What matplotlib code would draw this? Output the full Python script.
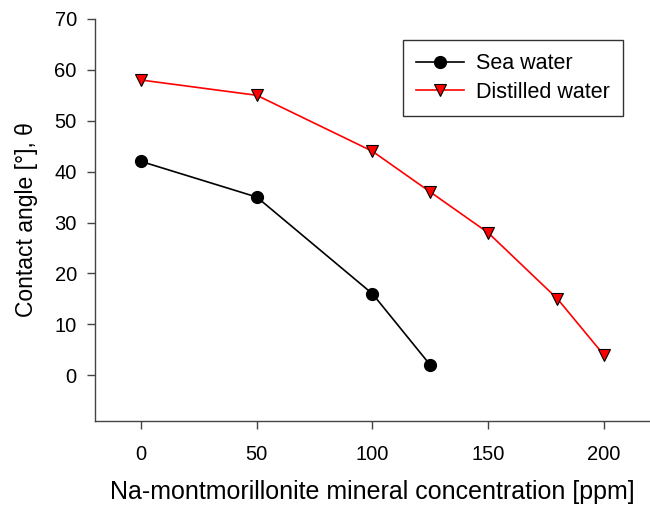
import matplotlib
matplotlib.use("Agg")
import matplotlib.pyplot as plt

plt.rcParams['font.family'] = ['Liberation Sans', 'DejaVu Sans']

sea_x = [0, 50, 100, 125]
sea_y = [42, 35, 16, 2]
dist_x = [0, 50, 100, 125, 150, 180, 200]
dist_y = [58, 55, 44, 36, 28, 15, 4]
xticks = [0, 50, 100, 150, 200]
yticks = [0, 10, 20, 30, 40, 50, 60, 70]

fig = plt.figure(figsize=(6.5, 5.07), dpi=100)
ax = fig.add_axes([0.146, 0.1696, 0.854, 0.793])

ax.plot(sea_x, sea_y, color='black', lw=1.2, marker='o', ms=8.5,
        mfc='black', mec='black', label='Sea water', clip_on=False)
ax.plot(dist_x, dist_y, color='red', lw=1.2, marker='v', ms=9,
        mfc='red', mec='black', mew=0.8, label='Distilled water', clip_on=False)

ax.set_xlim(-20, 220)
ax.set_ylim(-9, 70)
ax.set_xticks(xticks)
ax.set_yticks(yticks)
for s in ['top', 'right']:
    ax.spines[s].set_visible(False)
for s in ['left', 'bottom']:
    ax.spines[s].set_color('#444444')
    ax.spines[s].set_linewidth(1.0)
ax.tick_params(direction='out', length=6, width=1.0, color='#444444',
               labelsize=14.5, pad=7)
ax.tick_params(axis='x', pad=11)

ax.set_xlabel('Na-montmorillonite mineral concentration [ppm]', fontsize=18, labelpad=12)
ax.set_ylabel('Contact angle [°], θ', fontsize=16.5, labelpad=12)

leg = ax.legend(loc='upper left', bbox_to_anchor=(0.555, 0.948), fontsize=15.5,
                frameon=True, fancybox=False, edgecolor='black',
                borderpad=0.62, handlelength=2.2, labelspacing=0.36,
                handletextpad=0.55, borderaxespad=0)
leg.get_frame().set_linewidth(1.0)

fig.savefig('out.png', dpi=100)
